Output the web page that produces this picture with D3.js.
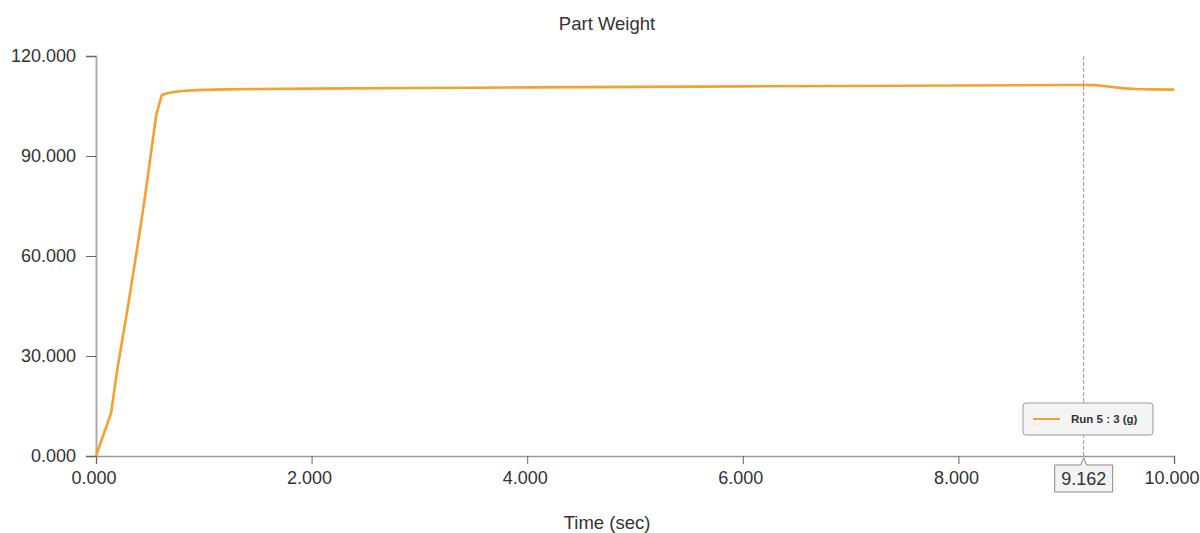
<!DOCTYPE html>
<html>
<head>
<meta charset="utf-8">
<script src="https://cdn.jsdelivr.net/npm/d3@7"></script>
<style>
  html, body { margin: 0; padding: 0; background: #fff; }
  svg { display: block; font-family: "Liberation Sans", Arial, sans-serif; }
</style>
</head>
<body>
<svg id="chart" width="1200" height="533"></svg>
<script>
// ---- data ----
const times  = [0, 0.14, 0.2, 0.3, 0.4, 0.45, 0.5, 0.56, 0.61, 0.66, 0.72, 0.8, 0.9, 1.0, 1.2, 1.5, 2, 3, 4, 5, 6, 7, 8, 9, 9.162, 9.27, 9.35, 9.45, 9.55, 9.65, 9.8, 10];
const values = [0, 12.9, 26.5, 45.6, 66, 76.8, 88.5, 102.5, 108.3, 108.8, 109.2, 109.5, 109.7, 109.85, 110.0, 110.1, 110.2, 110.4, 110.6, 110.75, 110.9, 111.0, 111.15, 111.3, 111.3, 111.25, 111.0, 110.6, 110.3, 110.1, 110.0, 109.9];
const xTicks = [0, 2, 4, 6, 8, 10];
const yTicks = [0, 30, 60, 90, 120];
const cursorX = 9.162;
const seriesName = "Run 5 : 3 (g)";
const title = "Part Weight";
const xLabel = "Time (sec)";

(function () {
const svg = d3.select("#chart");
const mLeft = 96, mRight = 1174, mTop = 56, mBottom = 456;

const x = d3.scaleLinear().domain([0, 10]).range([mLeft, mRight]);
const y = d3.scaleLinear().domain([0, 120]).range([mBottom, mTop]);

// title
svg.append("text").attr("x", 607).attr("y", 30).attr("text-anchor", "middle")
  .attr("font-size", 18.5).attr("fill", "#333").text(title);

// x axis label
svg.append("text").attr("x", 607).attr("y", 529).attr("text-anchor", "middle")
  .attr("font-size", 18.5).attr("fill", "#333").text(xLabel);

// y axis
const yAxis = svg.append("g").attr("transform", `translate(${mLeft},0)`)
  .call(d3.axisLeft(y).tickValues(yTicks).tickFormat(d3.format(".3f")).tickSize(10).tickPadding(10));
yAxis.select(".domain").attr("stroke", "#aaa").attr("stroke-width", 2);
yAxis.selectAll(".tick line").attr("stroke", "#666");
yAxis.selectAll(".tick text").attr("font-size", 18).attr("fill", "#333")
  .attr("font-family", "Liberation Sans, Arial, sans-serif");

// x axis
const xAxis = svg.append("g").attr("transform", `translate(0,${mBottom})`)
  .call(d3.axisBottom(x).tickValues(xTicks).tickFormat(d3.format(".3f")).tickSize(8).tickPadding(7));
xAxis.select(".domain").attr("stroke", "#999").attr("stroke-width", 1.5);
xAxis.selectAll(".tick line").attr("stroke", "#666");
xAxis.selectAll(".tick text").attr("font-size", 18).attr("fill", "#333").attr("dx", -2.5)
  .attr("font-family", "Liberation Sans, Arial, sans-serif");

// series line
const data = times.map((t, i) => ({ t, v: values[i] }));
const line = d3.line().x(d => x(d.t)).y(d => y(d.v));
svg.append("path").datum(data).attr("d", line)
  .attr("fill", "none").attr("stroke", "#F5A030").attr("stroke-width", 2.6)
  .attr("stroke-linejoin", "round");

// cursor dashed line
const cx = x(cursorX);
svg.append("line").attr("x1", cx).attr("x2", cx).attr("y1", mTop).attr("y2", mBottom + 2)
  .attr("stroke", "#999").attr("stroke-width", 1).attr("stroke-dasharray", "4,2");

// cursor label
const lbl = svg.append("g");
lbl.append("path")
  .attr("d", `M${cx - 29},465 H${cx - 3} L${cx},458 L${cx + 3},465 H${cx + 29} V492 H${cx - 29} Z`)
  .attr("fill", "#f3f3f3").attr("stroke", "#888").attr("stroke-width", 1);
lbl.append("text").attr("x", cx).attr("y", 485).attr("text-anchor", "middle")
  .attr("font-size", 18).attr("fill", "#333").text(cursorX.toFixed(3));

// legend
const lg = svg.append("g").attr("transform", "translate(1023,403)");
lg.append("rect").attr("width", 130).attr("height", 32).attr("rx", 3)
  .attr("fill", "#f4f4f4").attr("stroke", "#999").attr("stroke-width", 1);
lg.append("line").attr("x1", 10).attr("x2", 37).attr("y1", 16).attr("y2", 16)
  .attr("stroke", "#F5A030").attr("stroke-width", 2);
lg.append("text").attr("x", 48).attr("y", 20).attr("font-size", 11.5).attr("font-weight", "bold")
  .attr("fill", "#333").text(seriesName);
})();
</script>
</body>
</html>
